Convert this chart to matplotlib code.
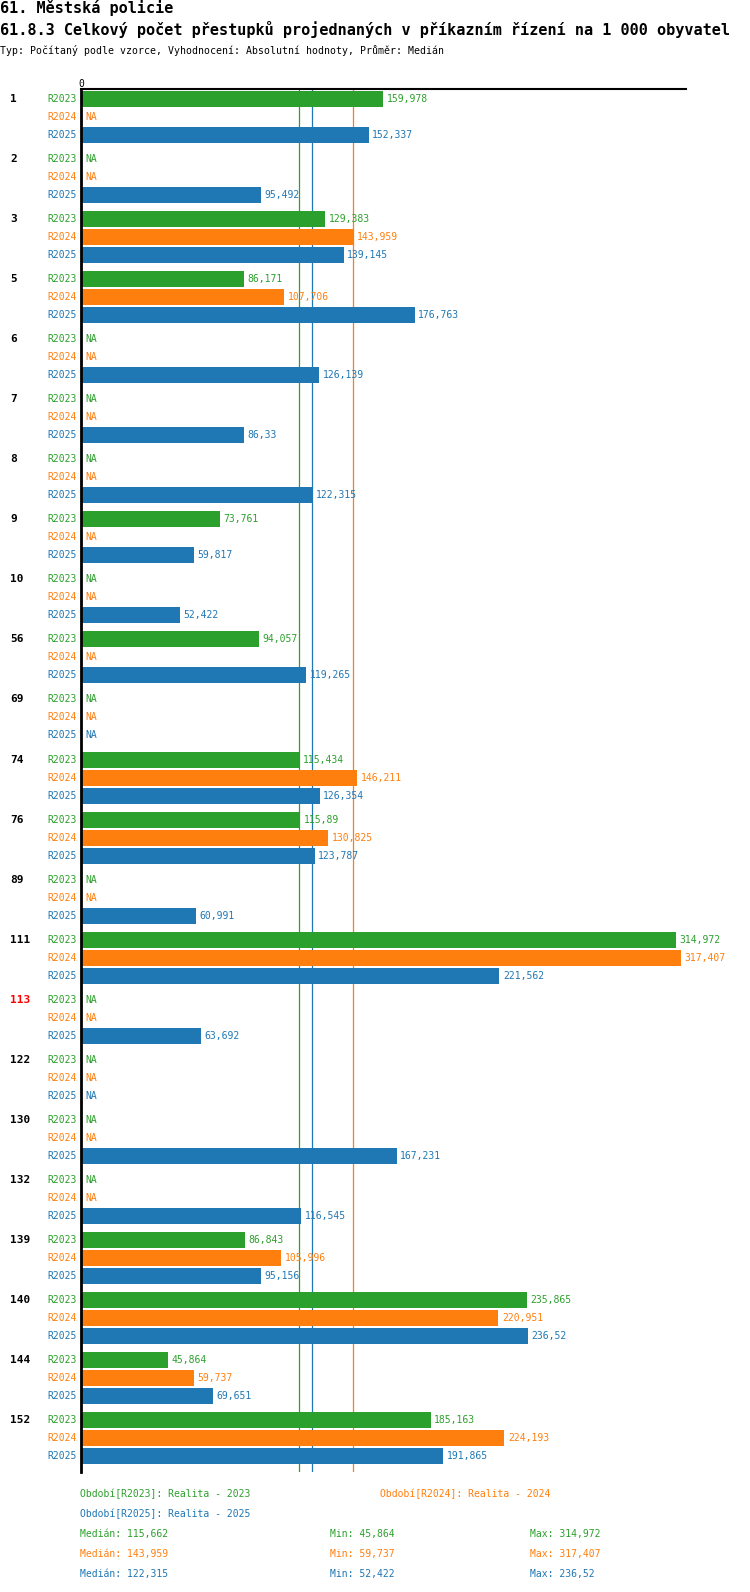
import numpy as np
import matplotlib
matplotlib.use("Agg")
import matplotlib.pyplot as plt
from matplotlib.transforms import blended_transform_factory

NA = np.nan

title1 = "61. Městská policie"
title2 = "61.8.3 Celkový počet přestupků projednaných v příkazním řízení na 1 000 obyvatel"
subtitle = "Typ: Počítaný podle vzorce, Vyhodnocení: Absolutní hodnoty, Průměr: Medián"

groups = ['1', '2', '3', '5', '6', '7', '8', '9', '10', '56', '69', '74', '76',
          '89', '111', '113', '122', '130', '132', '139', '140', '144', '152']
highlight = '113'

series_names = ['R2023', 'R2024', 'R2025']
series_desc = ['Realita - 2023', 'Realita - 2024', 'Realita - 2025']

r2023 = [159.978, NA, 129.383, 86.171, NA, NA, NA, 73.761, NA, 94.057, NA, 115.434,
         115.89, NA, 314.972, NA, NA, NA, NA, 86.843, 235.865, 45.864, 185.163]
r2024 = [NA, NA, 143.959, 107.706, NA, NA, NA, NA, NA, NA, NA, 146.211,
         130.825, NA, 317.407, NA, NA, NA, NA, 105.996, 220.951, 59.737, 224.193]
r2025 = [152.337, 95.492, 139.145, 176.763, 126.139, 86.33, 122.315, 59.817, 52.422,
         119.265, NA, 126.354, 123.787, 60.991, 221.562, 63.692, NA, 167.231, 116.545,
         95.156, 236.52, 69.651, 191.865]

series = [r2023, r2024, r2025]
colors = ['#2ca02c', '#ff7f0e', '#1f77b4']

MONO = 'DejaVu Sans Mono'
W, H = 750, 1592


def fmt(v):
    s = ('%.3f' % v).rstrip('0').rstrip('.')
    return s.replace('.', ',')


fig = plt.figure(figsize=(W / 100, H / 100), dpi=100)

# axes placed in pixel terms
x0, x1 = 81, 686
y_top, y_bot = 89, 1472
ax = fig.add_axes([x0 / W, 1 - y_bot / H, (x1 - x0) / W, (y_bot - y_top) / H])

row_px = 18.0
group_px = 60.05
first_px = 99.0
group_step = group_px / row_px

xmax = 320.3
ax.set_xlim(0, xmax)
ax.set_ylim((y_bot - first_px) / row_px, (y_top - first_px) / row_px)

lab_tr = blended_transform_factory(fig.transFigure, ax.transData)

for g, name in enumerate(groups):
    base = g * group_step
    ax.text(10 / W, base, name, transform=lab_tr, ha='left', va='center',
            fontsize=8, fontweight='bold', family=MONO,
            color='red' if name == highlight else 'black')
    for r, (vals, c, sname) in enumerate(zip(series, colors, series_names)):
        y = base + r
        v = vals[g]
        ax.text(77 / W, y, sname, transform=lab_tr, ha='right', va='center',
                fontsize=7, family=MONO, color=c)
        if np.isnan(v):
            ax.text(85 / W, y, 'NA', transform=lab_tr, ha='left', va='center',
                    fontsize=7, family=MONO, color=c)
        else:
            ax.barh(y, v, height=16 / row_px, color=c, left=0)
            ax.annotate(fmt(v), (v, y), xytext=(2.5, 0), textcoords='offset points',
                        ha='left', va='center', fontsize=7, family=MONO, color=c)

# median lines
meds = [np.nanmedian(s) for s in series]
for m, c in zip(meds, colors):
    ax.axvline(m, color=c, lw=0.9, zorder=0.5)

for sp in ['right', 'bottom']:
    ax.spines[sp].set_visible(False)
ax.spines['top'].set_linewidth(1.5)
ax.spines['left'].set_linewidth(2)
ax.set_xticks([])
ax.set_yticks([])
ax.text(0, 1, '0', transform=ax.transAxes, ha='center', va='bottom',
        fontsize=7, family=MONO)
ax.patch.set_alpha(0)

# titles
fig.text(0, 1 - 8 / H, title1, ha='left', va='center', fontsize=10.9,
         fontweight='bold', family=MONO)
fig.text(0, 1 - 30 / H, title2, ha='left', va='center', fontsize=10.9,
         fontweight='bold', family=MONO)
fig.text(0, 1 - 51 / H, subtitle, ha='left', va='center', fontsize=7.15, family=MONO)

# legend / summary
leg_pos = [(80, 1494), (380, 1494), (80, 1514)]
for (px, py), sname, d, c in zip(leg_pos, series_names, series_desc, colors):
    fig.text(px / W, 1 - py / H, 'Období[%s]: %s' % (sname, d), ha='left',
             va='center', fontsize=7, family=MONO, color=c)

for i, (vals, c) in enumerate(zip(series, colors)):
    py = 1534 + 20 * i
    fig.text(80 / W, 1 - py / H, 'Medián: %s' % fmt(np.nanmedian(vals)),
             ha='left', va='center', fontsize=7, family=MONO, color=c)
    fig.text(330 / W, 1 - py / H, 'Min: %s' % fmt(np.nanmin(vals)),
             ha='left', va='center', fontsize=7, family=MONO, color=c)
    fig.text(530 / W, 1 - py / H, 'Max: %s' % fmt(np.nanmax(vals)),
             ha='left', va='center', fontsize=7, family=MONO, color=c)

fig.savefig('out.png', dpi=100)
